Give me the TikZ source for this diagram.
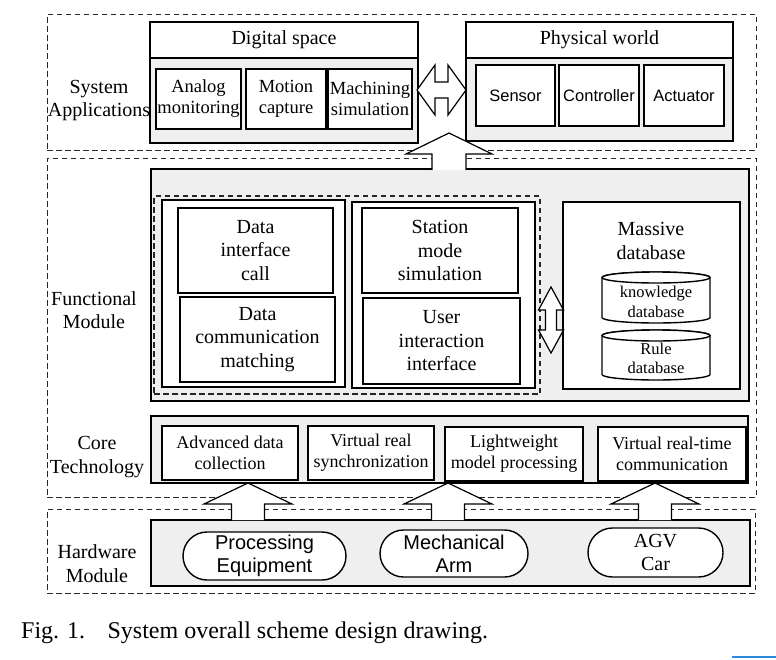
\documentclass[tikz,border=0pt]{standalone}
\usepackage{fontspec}
\setmainfont{Liberation Serif}
\newfontfamily\arialf{Liberation Sans}
\usetikzlibrary{shapes.misc,calc}
\definecolor{panelgray}{HTML}{EFEFEF}
\definecolor{markblue}{HTML}{2A8BE0}
\newcommand\fntA{\fontsize{20}{23.5}\selectfont}
\newcommand\fntB{\fontsize{18.5}{21}\selectfont}
\newcommand\fntC{\fontsize{18}{21}\selectfont}
\newcommand\fntD{\fontsize{16.5}{19.5}\selectfont}
\newcommand\fntE{\arialf\fontsize{16.5}{19}\selectfont}
\newcommand\fntF{\arialf\fontsize{20}{23}\selectfont}
\newcommand\fntG{\fontsize{24}{28}\selectfont}
\tikzset{
 outerdash/.style={draw=black!85, line width=0.9pt, dash pattern=on 5.5pt off 3.5pt},
 innerdash/.style={draw=black!85, line width=1.2pt, dash pattern=on 5.5pt off 3.5pt},
 panel/.style={draw=black, line width=1.8pt, fill=panelgray, inner sep=0pt},
 wbox/.style={draw=black, line width=1.8pt, fill=white, align=center, inner sep=0pt},
 pill/.style={rounded rectangle, draw=black, line width=1.4pt, fill=white, align=center, inner sep=0pt},
 fat/.style={draw=black, line width=1.2pt, fill=white, line join=miter},
 lbl/.style={align=center, inner sep=0pt},
 cyl/.style={draw=black, line width=1.4pt, fill=white},
}
\newcommand\upfat[5]{%
 \fill[white] (#1) -- ++(#2,#4) -- ++(-#2+#3,0) -- ++(0,#5-#4) -- ++(-2*#3,0) -- ++(0,-#5+#4) -- ++(-#2+#3,0) -- cycle;
 \draw[fat,fill=none] ($(#1)+(-#3,#5)$) -- ++(0,-#5+#4) -- ++(-#2+#3,0) -- (#1) -- ++(#2,#4) -- ++(-#2+#3,0) -- ++(0,#5-#4);
}
\begin{document}
\begin{tikzpicture}[x=1pt,y=-1pt]
\useasboundingbox[fill=white] (0,0) rectangle (776,659);

% outer dashed sections
\node[outerdash, minimum width=709, minimum height=136, inner sep=0pt] (secsys) at (401.5,82) {};
\node[outerdash, minimum width=709, minimum height=339, inner sep=0pt] (secfun) at (401.5,327.5) {};
\node[outerdash, minimum width=708, minimum height=84, inner sep=0pt] (sechw) at (401,551) {};

% section labels
\node[lbl, font=\fntA] (lsys) at (99,100.5) {System\\Applications};
\node[lbl, font=\fntA] (lfun) at (94,310) {Functional\\Module};
\node[lbl, font=\fntA] (lcore) at (97,457) {Core\\Technology};
\node[lbl, font=\fntA] (lhw) at (97,563.5) {Hardware\\Module};

% ---- System applications ----
\node[panel, minimum width=268, minimum height=85] (dpanel) at (284,100.5) {};
\node[wbox, minimum width=268, minimum height=36, font=\fntA] (dtitle) at (284,40) {Digital space};
\node[wbox, minimum width=85, minimum height=60, font=\fntB] (analog) at (198.5,99) {Analog\\monitoring};
\node[wbox, minimum width=80, minimum height=60, font=\fntB] (motion) at (286,99) {Motion\\capture};
\node[wbox, minimum width=84, minimum height=60, font=\fntB] (machining) at (370,99) {Machining\\simulation};

\node[panel, minimum width=267, minimum height=83] (ppanel) at (599.5,99.5) {};
\node[wbox, minimum width=267, minimum height=36, font=\fntA] (ptitle) at (599.5,40) {Physical world};
\node[wbox, minimum width=79, minimum height=61, font=\fntE] (sensor) at (515.5,95.5) {Sensor};
\node[wbox, minimum width=80, minimum height=61, font=\fntE] (controller) at (599,95.5) {Controller};
\node[wbox, minimum width=80, minimum height=61, font=\fntE] (actuator) at (684,95.5) {Actuator};

% ---- Functional module ----
\node[panel, minimum width=598, minimum height=232] (fpanel) at (450,285) {};
\node[innerdash, minimum width=386, minimum height=198, inner sep=0pt] (fdash) at (347,295) {};
\node[wbox, minimum width=183, minimum height=187] (lcol) at (253.5,293.5) {};
\node[wbox, minimum width=155, minimum height=85, font=\fntA] (dic) at (255.5,250.5) {Data\\interface\\call};
\node[wbox, minimum width=155, minimum height=85, font=\fntA] (dcm) at (257.5,339.5) {Data\\communication\\matching};
\node[wbox, minimum width=183, minimum height=186] (rcol) at (443.5,295) {};
\node[wbox, minimum width=156, minimum height=85, font=\fntA] (sms) at (440,250.5) {Station\\mode\\simulation};
\node[wbox, minimum width=157, minimum height=86, font=\fntA] (uii) at (441.5,341) {User\\interaction\\interface};
\node[wbox, minimum width=177, minimum height=187] (mdb) at (651.5,295.5) {};
\node[lbl, font=\fntA] (mdbt) at (651,241) {Massive\\database};

% cylinders
\draw[cyl] (602,277.5) -- (602,317.5) arc[start angle=180, end angle=360, x radius=54pt, y radius=5.5pt] -- (710,277.5) arc[start angle=0, end angle=180, x radius=54pt, y radius=5.5pt] -- cycle;
\draw[cyl] (656,277.5) ellipse[x radius=54pt, y radius=5.5pt];
\node[lbl, font=\fntD] (kdb) at (656,302) {knowledge\\database};
\draw[cyl] (602,335.5) -- (602,374.5) arc[start angle=180, end angle=360, x radius=54pt, y radius=5.5pt] -- (710,335.5) arc[start angle=0, end angle=180, x radius=54pt, y radius=5.5pt] -- cycle;
\draw[cyl] (656,335.5) ellipse[x radius=54pt, y radius=5.5pt];
\node[lbl, font=\fntD] (rdb) at (656,358.5) {Rule\\database};

% ---- Core technology ----
\node[panel, minimum width=597, minimum height=67] (core) at (449.5,449.5) {};
\node[wbox, minimum width=136, minimum height=54, font=\fntC] (adc) at (230,453) {Advanced data\\collection};
\node[wbox, minimum width=126, minimum height=54, font=\fntC] (vrs) at (371,453) {Virtual real\\synchronization};
\node[wbox, minimum width=138, minimum height=54, font=\fntC] (lmp) at (514,454) {Lightweight\\model processing};
\node[wbox, minimum width=148, minimum height=54, font=\fntC] (vrtc) at (672,454) {Virtual real-time\\communication};

% ---- Hardware module ----
\node[panel, minimum width=599, minimum height=66] (hw) at (450.5,553) {};
\node[pill, minimum width=163, minimum height=48, font=\fntF] (pe) at (264.5,556) {Processing\\Equipment};
\node[pill, minimum width=148, minimum height=47, font=\fntF] (ma) at (454,553.5) {Mechanical\\Arm};
\node[pill, minimum width=135, minimum height=49, font=\fntA] (agv) at (655.5,552.5) {AGV\\Car};

% ---- arrows ----
\coordinate (hl) at (417,90);
\draw[fat] (hl) -- ++(18,-25) -- ++(0,17) -- ++(13,0) -- ++(0,-17) -- ++(18,25) -- ++(-18,25) -- ++(0,-17) -- ++(-13,0) -- ++(0,17) -- cycle;
\coordinate (vt) at (551,287);
\draw[fat] (vt) -- ++(12.5,23) -- ++(-7,0) -- ++(0,20) -- ++(7,0) -- ++(-12.5,23) -- ++(-12.5,-23) -- ++(7,0) -- ++(0,-20) -- ++(-7,0) -- cycle;
\coordinate (upt) at (449,133);
\upfat{upt}{43}{17}{21}{37}
\coordinate (a1) at (248,483);
\coordinate (a2) at (448,483);
\coordinate (a3) at (655,483);
\upfat{a1}{44}{16.5}{21}{37}
\upfat{a2}{44}{16.5}{21}{37}
\upfat{a3}{44}{16.5}{21}{37}

% caption
\node[anchor=west, inner sep=0pt, font=\fntG] (cap) at (21,633) {Fig. 1.\hspace{0.6em} System overall scheme design drawing.};
\coordinate (bm) at (732,657);
\draw[markblue, line width=1.5pt] (bm) -- ++(44,0);
\end{tikzpicture}
\end{document}
